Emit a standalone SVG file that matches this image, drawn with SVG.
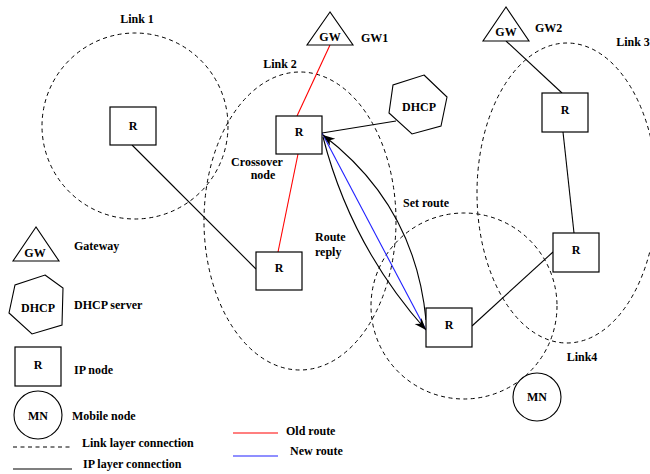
<svg xmlns="http://www.w3.org/2000/svg" width="650" height="474" viewBox="0 0 650 474">
  <style>
    .c { text-anchor: middle; }
    .box { fill: #fff; stroke: #000; stroke-width: 1.2; }
    .shape { fill: #fff; stroke: #000; stroke-width: 1.1; }
    .link { fill: none; stroke: #000; stroke-width: 1; stroke-dasharray: 4 3.5; }
    .ip { fill: none; stroke: #000; stroke-width: 1.1; }
    .old { fill: none; stroke: #ff0000; stroke-width: 1.1; }
    .new { fill: none; stroke: #2020ff; stroke-width: 1.1; }
  </style>
  <defs>
    <marker id="arrow" viewBox="-12 -6 13 12" refX="0" refY="0" markerWidth="13" markerHeight="12" markerUnits="userSpaceOnUse" orient="auto">
      <path d="M0,0 L-12,-4.5 L-8.5,0 L-12,4.5 Z" fill="#000"/>
    </marker>
  </defs>

  <g font-family="Liberation Serif, Times New Roman, serif" font-weight="bold" font-size="12" fill="#000">
  <!-- link-layer areas -->
  <g id="links">
    <circle class="link" cx="135" cy="126" r="93"/>
    <ellipse class="link" cx="300" cy="221" rx="96" ry="149"/>
    <ellipse class="link" cx="567" cy="193" rx="90" ry="150"/>
    <circle class="link" cx="464" cy="306" r="93"/>
    <text class="c" x="137" y="23">Link 1</text>
    <text class="c" x="280" y="68">Link 2</text>
    <text class="c" x="633" y="46">Link 3</text>
    <text class="c" x="582" y="361">Link4</text>
  </g>

  <!-- connectors -->
  <g id="connectors">
    <line class="ip" x1="132" y1="145" x2="256" y2="269"/>
    <line class="old" x1="330" y1="45" x2="297" y2="116"/>
    <line class="old" x1="298" y1="154" x2="278" y2="252"/>
    <line class="ip" x1="322" y1="133" x2="396" y2="121"/>
    <line class="new" x1="322" y1="133" x2="426" y2="330"/>
    <line class="ip" x1="506" y1="41" x2="562" y2="93"/>
    <line class="ip" x1="563" y1="132" x2="574" y2="233"/>
    <line class="ip" x1="472" y1="326" x2="553" y2="252"/>
    <path class="ip" d="M323,137 Q351,246 426,330" marker-end="url(#arrow)"/>
    <path class="ip" d="M426,320 Q415,205 323,135" marker-end="url(#arrow)"/>
    <text x="403" y="207">Set route</text>
    <text x="315" y="241">Route</text>
    <text x="315" y="256">reply</text>
    <text class="c" x="257" y="166">Crossover</text>
    <text class="c" x="263" y="179">node</text>
  </g>

  <!-- nodes -->
  <g id="gw1">
    <polygon class="shape" points="330,12 307,45 353,45"/>
    <text class="c" x="330" y="41">GW</text>
    <text x="361" y="42">GW1</text>
  </g>
  <g id="gw2">
    <polygon class="shape" points="506,7 483,41 529,41"/>
    <text class="c" x="506" y="36">GW</text>
    <text x="535" y="32">GW2</text>
  </g>
  <g id="dhcp">
    <polygon class="shape" points="424,75 447,97 441,126 412,134 389,113 393,85"/>
    <text class="c" x="419" y="111">DHCP</text>
  </g>
  <g id="r1">
    <rect class="box" x="110" y="107" width="46" height="38"/>
    <text class="c" x="133" y="130">R</text>
  </g>
  <g id="r2">
    <rect class="box" x="276" y="116" width="46" height="38"/>
    <text class="c" x="299" y="136">R</text>
  </g>
  <g id="r3">
    <rect class="box" x="256" y="252" width="46" height="38"/>
    <text class="c" x="279" y="272">R</text>
  </g>
  <g id="r4">
    <rect class="box" x="426" y="308" width="46" height="39"/>
    <text class="c" x="449" y="329">R</text>
  </g>
  <g id="r5">
    <rect class="box" x="542" y="93" width="46" height="39"/>
    <text class="c" x="565" y="114">R</text>
  </g>
  <g id="r6">
    <rect class="box" x="553" y="233" width="46" height="39"/>
    <text class="c" x="576" y="254">R</text>
  </g>
  <g id="mn">
    <circle class="shape" cx="537" cy="397" r="24"/>
    <text class="c" x="537" y="401">MN</text>
  </g>

  <!-- legend -->
  <g id="legend">
    <polygon class="shape" points="36,227 13,261 59,261"/>
    <text class="c" x="35" y="257">GW</text>
    <text x="74" y="250">Gateway</text>

    <polygon class="shape" points="45,275 63,288 62,325 32,334 9,313 15,285"/>
    <text class="c" x="38" y="312">DHCP</text>
    <text x="74" y="309">DHCP server</text>

    <rect class="box" x="15" y="347" width="46" height="39"/>
    <text class="c" x="38" y="369">R</text>
    <text x="74" y="374">IP node</text>

    <circle class="shape" cx="38" cy="415" r="24"/>
    <text class="c" x="38" y="420">MN</text>
    <text x="72" y="420">Mobile node</text>

    <line class="link" x1="13" y1="447" x2="70" y2="447"/>
    <text x="82" y="447">Link layer connection</text>
    <line class="ip" x1="13" y1="469" x2="72" y2="469"/>
    <text x="83" y="468">IP layer connection</text>

    <line class="old" x1="233" y1="433" x2="278" y2="433"/>
    <text x="286" y="435">Old route</text>
    <line class="new" x1="233" y1="456" x2="278" y2="456"/>
    <text x="290" y="455">New route</text>
  </g>
  </g>
</svg>
